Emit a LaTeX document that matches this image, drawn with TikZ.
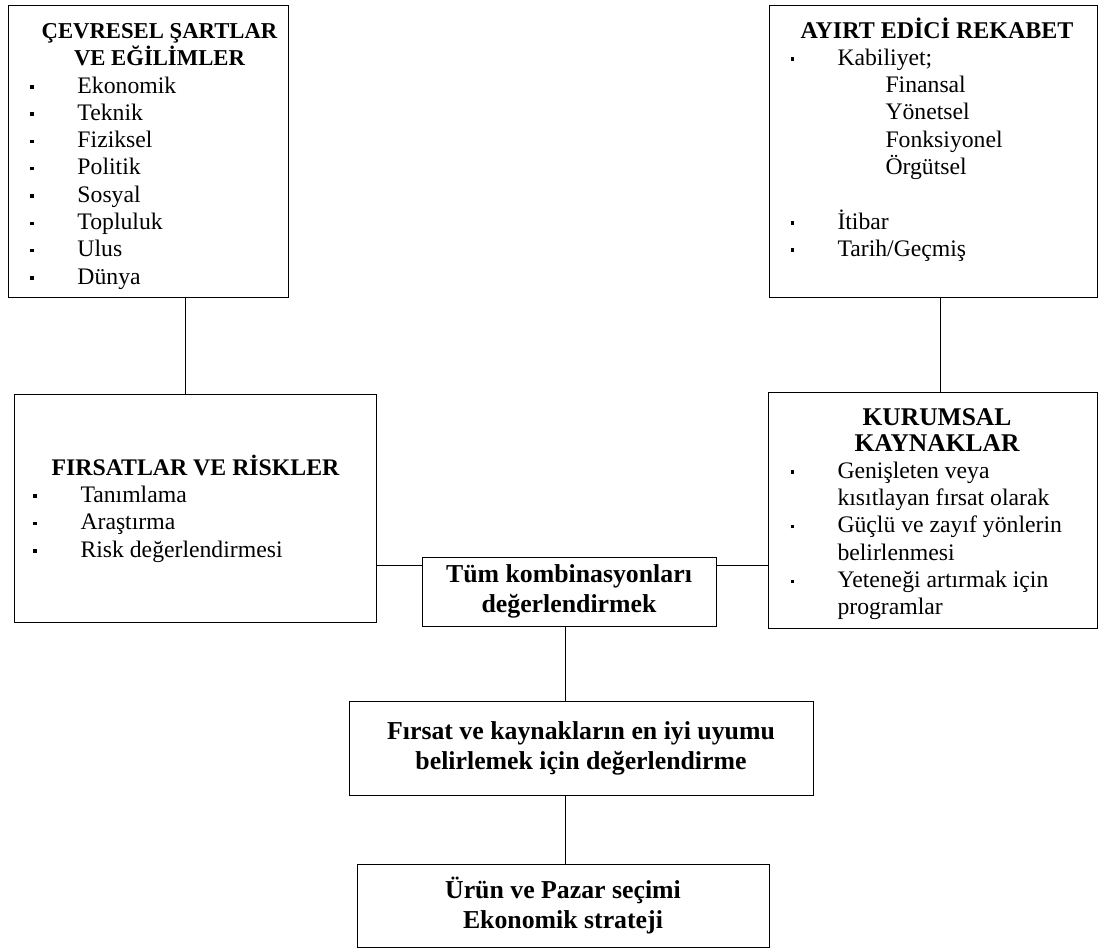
\documentclass[tikz,border=0pt]{standalone}
\usepackage{fontspec}
\setmainfont{Liberation Serif}
\newcommand{\itm}[1]{\makebox[47pt][l]{\rule[4.5pt]{3.5pt}{3.5pt}}#1}
\newcommand{\ust}{\rule{0pt}{20pt}}
\newcommand{\govde}{\fontsize{23.7}{27.3}\selectfont}

\begin{document}
\begin{tikzpicture}[x=1pt, y=-1pt, line width=1pt,
    kutu/.style={draw, inner sep=0pt, font=\govde},
    ortakutu/.style={draw, inner sep=0pt, align=center, font=\fontsize{25.8}{30}\selectfont\bfseries}]
    \useasboundingbox (0,0) rectangle (1099,949);

    % ust kutular
    \node[kutu, anchor=north west] (cevre) at (8,5) {\hspace*{22pt}\parbox[c][292pt][t]{258pt}{\vspace*{13pt}%
        {\centering\fontsize{22.7}{27.3}\selectfont\bfseries\ust ÇEVRESEL ŞARTLAR\\VE EĞİLİMLER\par}
        \itm{Ekonomik}\\ \itm{Teknik}\\ \itm{Fiziksel}\\ \itm{Politik}\\
        \itm{Sosyal}\\ \itm{Topluluk}\\ \itm{Ulus}\\ \itm{Dünya}}};
    \node[kutu, anchor=north west] (rekabet) at (769,5) {\hspace*{21pt}\parbox[c][292pt][t]{293pt}{\vspace*{12pt}%
        {\centering\fontsize{24}{27.3}\selectfont\bfseries\ust AYIRT EDİCİ REKABET\par}
        \itm{Kabiliyet;}\\ \hspace*{95pt}Finansal\\ \hspace*{95pt}Yönetsel\\
        \hspace*{95pt}Fonksiyonel\\ \hspace*{95pt}Örgütsel\\ \mbox{}\\
        \itm{İtibar}\\ \itm{Tarih/Geçmiş}}\hspace*{14pt}};

    % orta kutular
    \node[kutu, anchor=north west] (riskler) at (14,394) {\hspace*{19pt}\parbox[c][228pt][c]{324pt}{%
        {\centering\fontsize{23.8}{27.3}\selectfont\bfseries FIRSATLAR VE RİSKLER\par}
        \itm{Tanımlama}\\ \itm{Araştırma}\\ \itm{Risk değerlendirmesi}}\hspace*{19pt}};
    \node[kutu, anchor=north west] (kaynak) at (768,392) {\hspace*{22pt}\parbox[c][236pt][t]{293pt}{\vspace*{13pt}%
        {\centering\fontsize{25.5}{25.5}\selectfont\bfseries\ust KURUMSAL\\KAYNAKLAR\par}
        \itm{Genişleten veya}\\ \hspace*{47pt}kısıtlayan fırsat olarak\\
        \itm{Güçlü ve zayıf yönlerin}\\ \hspace*{47pt}belirlenmesi\\
        \itm{Yeteneği artırmak için}\\ \hspace*{47pt}programlar}\hspace*{14pt}};
    \node[ortakutu, minimum width=294pt, minimum height=69pt] (tum) at (569,591.5) {Tüm kombinasyonları\\değerlendirmek};

    % alt kutular
    \node[ortakutu, minimum width=464pt, minimum height=94pt] (uyum) at (581,748) {Fırsat ve kaynakların en iyi uyumu\\belirlemek için değerlendirme};
    \node[ortakutu, minimum width=412pt, minimum height=83pt] (secim) at (563,905.5) {Ürün ve Pazar seçimi\\Ekonomik strateji};

    \coordinate (solhat) at (185,0);
    \coordinate (saghat) at (940,0);
    \coordinate (yatay) at (0,565);
    \coordinate (eksen) at (565,0);
    \draw (cevre.south -| solhat) -- (riskler.north -| solhat);
    \draw (rekabet.south -| saghat) -- (kaynak.north -| saghat);
    \draw (riskler.east |- yatay) -- (tum.west |- yatay);
    \draw (tum.east |- yatay) -- (kaynak.west |- yatay);
    \draw (tum.south -| eksen) -- (uyum.north -| eksen);
    \draw (uyum.south -| eksen) -- (secim.north -| eksen);
\end{tikzpicture}
\end{document}
